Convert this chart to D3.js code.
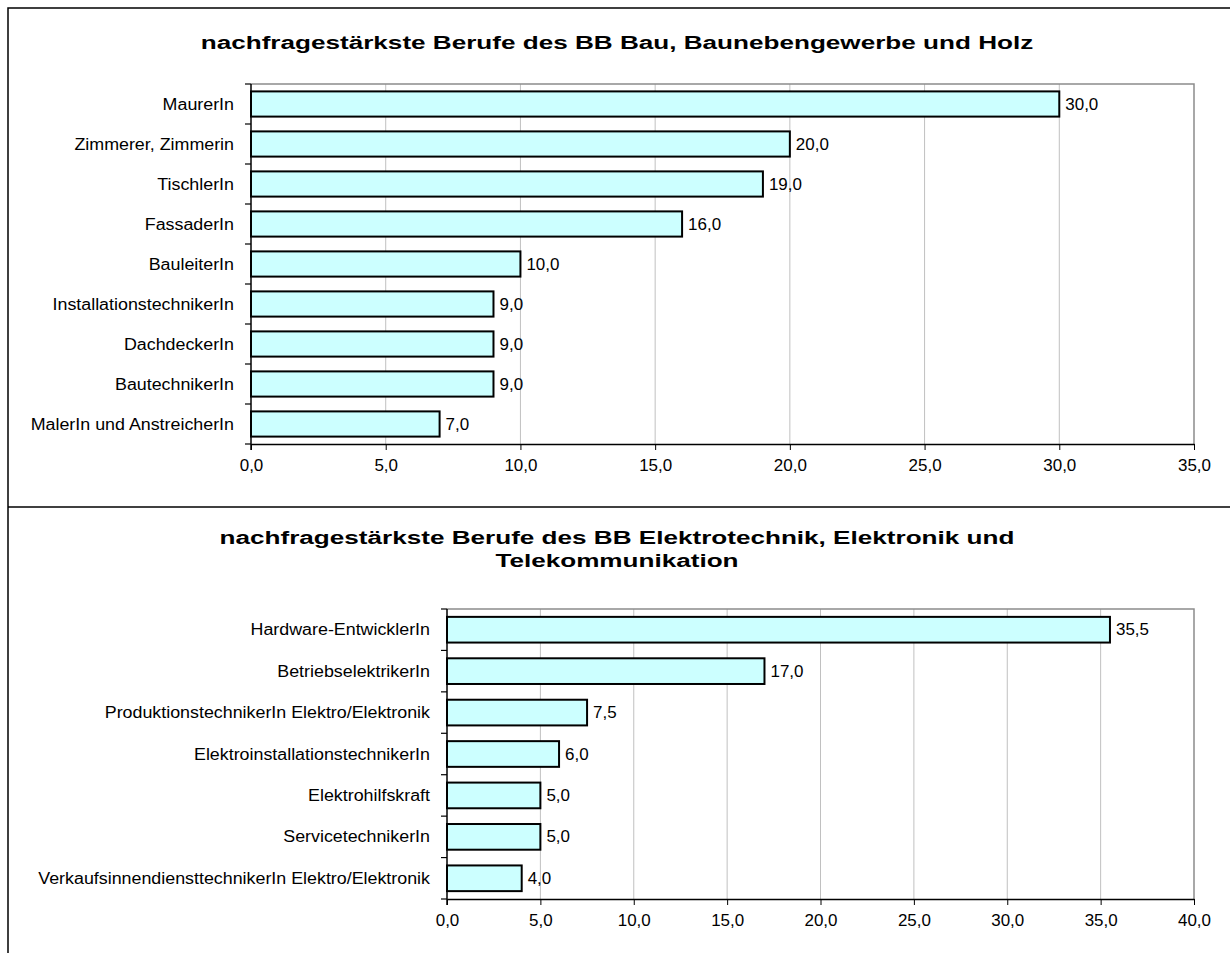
<!DOCTYPE html>
<html>
<head>
  <meta charset="utf-8">
  <script src="https://d3js.org/d3.v7.min.js"></script>
  <style>
    body { margin: 0; background: #fff; }
    text { font-family: Arial, "Liberation Sans", sans-serif; fill: #000; }
    .title { font-size: 18px; font-weight: bold; }
    .lbl { font-size: 16px; }
  </style>
</head>
<body>
<svg id="chart" width="1230" height="953"></svg>
<script>
// data
var bauBerufe = ["MaurerIn", "Zimmerer, Zimmerin", "TischlerIn", "FassaderIn", "BauleiterIn",
  "InstallationstechnikerIn", "DachdeckerIn", "BautechnikerIn", "MalerIn und AnstreicherIn"];
var bauWerte = [30, 20, 19, 16, 10, 9, 9, 9, 7];
var bauTicks = [0, 5, 10, 15, 20, 25, 30, 35];

var elBerufe = ["Hardware-EntwicklerIn", "BetriebselektrikerIn", "ProduktionstechnikerIn Elektro/Elektronik",
  "ElektroinstallationstechnikerIn", "Elektrohilfskraft", "ServicetechnikerIn",
  "VerkaufsinnendiensttechnikerIn Elektro/Elektronik"];
var elWerte = [35.5, 17, 7.5, 6, 5, 5, 4];
var elTicks = [0, 5, 10, 15, 20, 25, 30, 35, 40];

var fmt = function(v) { return d3.format(".1f")(v).replace(".", ","); };

// the original text is a bit wider than Liberation Sans, stretch it
function widen(sel, f) {
  sel.each(function() {
    var w = this.getComputedTextLength();
    d3.select(this).attr("textLength", w * f).attr("lengthAdjust", "spacingAndGlyphs");
  });
}

var svg = d3.select("#chart");

// outer frame + divider
svg.append("rect").attr("x", 8).attr("y", 8).attr("width", 1240).attr("height", 960)
  .attr("fill", "none").attr("stroke", "#000").attr("stroke-width", 1.5);
svg.append("line").attr("x1", 8).attr("x2", 1230).attr("y1", 507).attr("y2", 507)
  .attr("stroke", "#000").attr("stroke-width", 1.5);

function drawPanel(cfg) {
  var g = svg.append("g");
  var data = cfg.cats.map(function(c, i) { return { cat: c, val: cfg.vals[i] }; });

  var x = d3.scaleLinear().domain([0, d3.max(cfg.ticks)]).range([cfg.left, cfg.right]);
  var y = d3.scaleBand().domain(cfg.cats).range([cfg.top, cfg.bottom]).paddingInner(cfg.pad).paddingOuter(cfg.pad / 2);
  var step = y.step();

  // title
  var t = g.selectAll(".title").data(cfg.title).enter().append("text").attr("class", "title")
    .attr("text-anchor", "middle")
    .attr("x", 617).attr("y", function(d, i) { return cfg.titleY + i * 23; })
    .text(function(d) { return d; });
  widen(t, 1.45);

  // gridlines
  g.selectAll(".grid").data(cfg.ticks.slice(1, -1)).enter().append("line")
    .attr("x1", function(d) { return x(d); }).attr("x2", function(d) { return x(d); })
    .attr("y1", cfg.top).attr("y2", cfg.bottom)
    .attr("stroke", "#c0c0c0").attr("stroke-width", 1);

  // plot border top and right
  g.append("path")
    .attr("d", "M" + cfg.left + "," + cfg.top + "H" + cfg.right + "V" + cfg.bottom)
    .attr("fill", "none").attr("stroke", "#8c8c8c").attr("stroke-width", 1.5);

  // bars
  g.selectAll(".bar").data(data).enter().append("rect")
    .attr("x", x(0)).attr("y", function(d) { return y(d.cat); })
    .attr("width", function(d) { return x(d.val) - x(0); })
    .attr("height", y.bandwidth())
    .attr("fill", "#ccffff").attr("stroke", "#000").attr("stroke-width", 2);

  // value labels
  var v = g.selectAll(".val").data(data).enter().append("text").attr("class", "lbl")
    .attr("x", function(d) { return x(d.val) + 6; })
    .attr("y", function(d) { return y(d.cat) + y.bandwidth() / 2 + 5.5; })
    .text(function(d) { return fmt(d.val); });
  widen(v, 1.06);

  // x axis
  var xAxis = g.append("g").attr("transform", "translate(0," + cfg.bottom + ")")
    .call(d3.axisBottom(x).tickValues(cfg.ticks).tickFormat(fmt).tickSizeInner(6).tickSizeOuter(0).tickPadding(10));
  xAxis.select(".domain").attr("stroke", "#000").attr("stroke-width", 1.5);
  xAxis.selectAll("line").attr("stroke", "#000");
  xAxis.selectAll("text").attr("class", "lbl").attr("font-size", null).attr("font-family", null);
  widen(xAxis.selectAll("text"), 1.06);

  // y axis: ticks at band boundaries
  g.append("line").attr("x1", cfg.left).attr("x2", cfg.left).attr("y1", cfg.top).attr("y2", cfg.bottom + 6)
    .attr("stroke", "#000").attr("stroke-width", 1.5);
  var bounds = cfg.cats.map(function(c) { return y(c) - y.paddingInner() * step / 2; });
  bounds.push(cfg.bottom);
  g.selectAll(".ytick").data(bounds).enter().append("line")
    .attr("x1", cfg.left - 6).attr("x2", cfg.left)
    .attr("y1", function(d) { return d; }).attr("y2", function(d) { return d; })
    .attr("stroke", "#000").attr("stroke-width", 1.2);

  var c = g.selectAll(".cat").data(data).enter().append("text").attr("class", "lbl")
    .attr("text-anchor", "end")
    .attr("x", cfg.left - 17)
    .attr("y", function(d) { return y(d.cat) + y.bandwidth() / 2 + 5.5; })
    .text(function(d) { return d.cat; });
  widen(c, 1.115);
}

drawPanel({
  title: ["nachfragestärkste Berufe des BB Bau, Baunebengewerbe und Holz"],
  titleY: 49,
  cats: bauBerufe, vals: bauWerte, ticks: bauTicks,
  left: 251, right: 1194, top: 84, bottom: 444, pad: 0.37
});

drawPanel({
  title: ["nachfragestärkste Berufe des BB Elektrotechnik, Elektronik und", "Telekommunikation"],
  titleY: 544,
  cats: elBerufe, vals: elWerte, ticks: elTicks,
  left: 447, right: 1194, top: 609, bottom: 899, pad: 0.38
});
</script>
</body>
</html>
